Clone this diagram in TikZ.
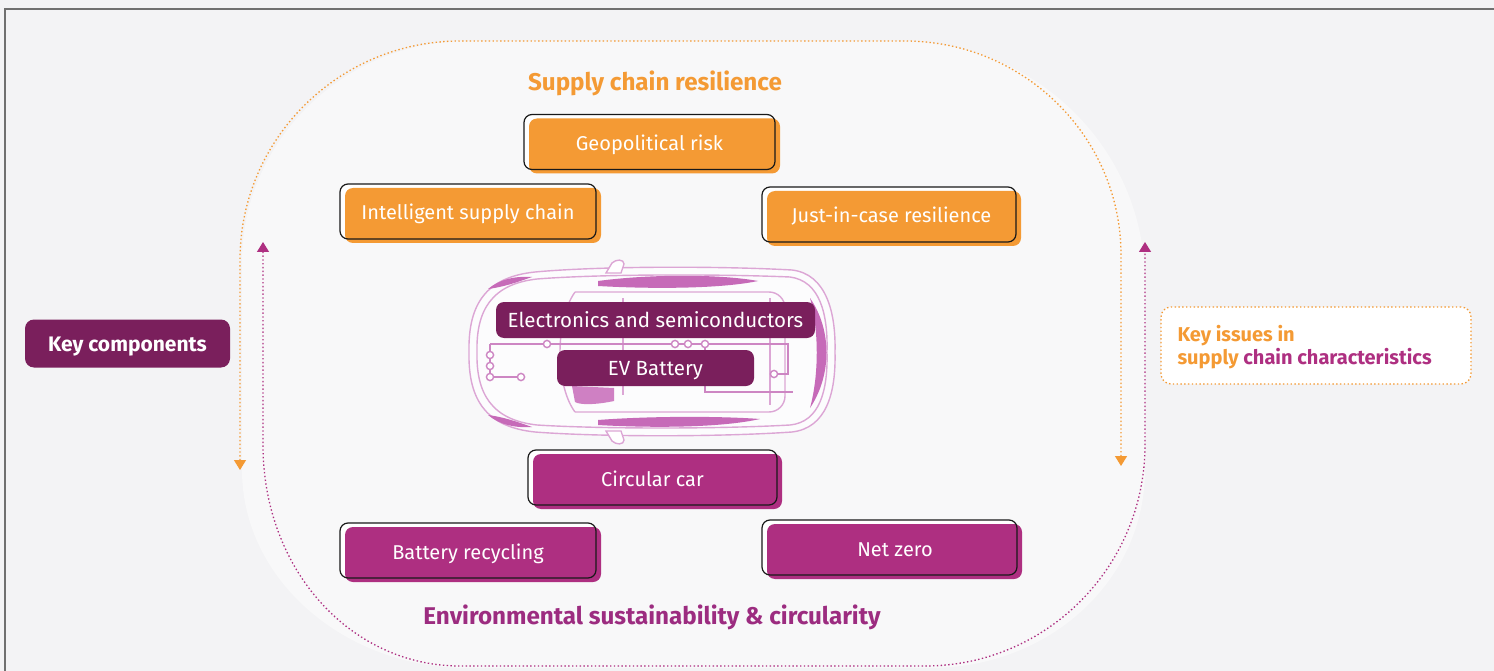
\documentclass[tikz,border=0pt]{standalone}
\usepackage{fontspec}
\setmainfont{Fira Sans}
\usetikzlibrary{arrows.meta}
\definecolor{bgc}{HTML}{F3F3F5}
\definecolor{innerc}{HTML}{F8F8F9}
\definecolor{org}{HTML}{F49A34}
\definecolor{mag}{HTML}{AE2F81}
\definecolor{dpur}{HTML}{7A1F5C}
\definecolor{envc}{HTML}{9C2C80}
\definecolor{carl}{HTML}{DCA6D5}
\definecolor{carc}{HTML}{CD86C3}
\definecolor{cark}{HTML}{C66AB8}
\definecolor{framec}{HTML}{707070}
\pgfdeclarelayer{back}\pgfdeclarelayer{mid}\pgfsetlayers{back,mid,main}
\newcommand\bxf{\fontsize{20pt}{23pt}\selectfont}
\newcommand\cbf{\fontsize{20.5pt}{23pt}\selectfont}
\newcommand\hdf{\bfseries\fontsize{24.2pt}{28pt}\selectfont}
\newcommand\kcf{\bfseries\fontsize{21pt}{24pt}\selectfont}
\newcommand\kif{\bfseries\fontsize{20pt}{23pt}\selectfont}
\tikzset{
  pairbox/.style={draw=black!90, line width=1.2pt, rounded corners=8pt,
    minimum height=55pt, inner sep=0pt, outer sep=0pt, text=white, font=\bxf,
    text height=21pt, text depth=4pt},
  carbox/.style={fill=dpur, rounded corners=8pt, minimum height=36pt, inner sep=0pt,
    text=white, font=\cbf, text height=18pt, text depth=4pt},
  odot/.style={draw=org, line width=1.3pt, dash pattern=on 1.4pt off 2.4pt},
  mdot/.style={draw=mag, line width=1.3pt, dash pattern=on 1.4pt off 2.4pt},
  tip/.tip={Triangle[width=12pt,length=10pt]},
}
\newcommand\pairbox[5]{%
  \node[pairbox, minimum width=#3] (#1) at (#2) {#5};
  \begin{pgfonlayer}{mid}
    \fill[white, rounded corners=8pt] (#1.north west) rectangle (#1.south east);
    \fill[#4, rounded corners=8pt] ([shift={(5,4)}]#1.north west) rectangle ([shift={(5,4)}]#1.south east);
  \end{pgfonlayer}}
\begin{document}
\begin{tikzpicture}[x=1pt,y=-1pt]
\useasboundingbox (0,0) rectangle (1494,671);
\begin{pgfonlayer}{back}
  \fill[bgc] (0,0) rectangle (1494,671);
  \fill[innerc] (242,470) -- (242,262) .. controls (242,140) and (345,41) .. (467,41) -- (900,41)
    .. controls (1035,41) and (1145,148) .. (1145,282) -- (1145,470)
    .. controls (1145,580) and (1050,668) .. (930,668) -- (467,668)
    .. controls (345,668) and (242,580) .. (242,470) -- cycle;
\end{pgfonlayer}
\draw[framec, line width=1.5pt] (5,671) -- (5,9) -- (1494,9);

% dotted cycle arrows
\coordinate (oL) at (240,470);
\coordinate (oR) at (1121,466);
\coordinate (mL) at (263,242);
\coordinate (mR) at (1145,242);
\draw[odot, {tip}-{tip}] (oL) -- (240,260) .. controls (240,139) and (339,41) .. (460,41) -- (905,41)
   .. controls (1024,41) and (1121,137) .. (1121,255) -- (oR);
\draw[mdot, {tip}-{tip}] (mL) -- (263,445) .. controls (263,570) and (351,666) .. (460,666) -- (925,666)
   .. controls (1046,666) and (1145,567) .. (1145,445) -- (mR);

% car drawing
\begin{scope}[line width=1.4pt]
  \filldraw[draw=carl, fill=white!60!innerc] (469,352) .. controls (468,303) and (487,277) .. (535,272)
    .. controls (600,266) and (720,266) .. (792,270) .. controls (826,274) and (836,312) .. (835,352)
    .. controls (836,394) and (826,428) .. (792,432) .. controls (720,437) and (600,437) .. (535,432)
    .. controls (487,427) and (468,401) .. (469,352) -- cycle;
  \draw[carl] (477,352) .. controls (476,310) and (492,284) .. (537,279) .. controls (600,274) and (720,274) .. (790,277)
    .. controls (820,281) and (828,314) .. (827,352) .. controls (828,390) and (820,422) .. (790,425)
    .. controls (720,429) and (600,429) .. (537,425) .. controls (492,420) and (476,394) .. (477,352);
  \draw[carl, rounded corners=16pt] (575,292) -- (785,292) -- (785,412) -- (575,412);
  \draw[carl] (575,292) .. controls (555,320) and (555,385) .. (575,412);
  \draw[carl] (623,298) -- (623,395);
  \draw[carl] (770,298) -- (770,405);
  \fill[cark] (598,281) .. controls (650,274) and (720,274) .. (758,281) .. controls (720,289) and (650,289) .. (598,286) -- cycle;
  \fill[cark] (598,420) .. controls (650,416) and (720,416) .. (760,419) .. controls (720,428) and (650,428) .. (598,425) -- cycle;
  \fill[cark] (810,298) .. controls (832,330) and (832,375) .. (810,408) .. controls (819,375) and (819,330) .. (810,298) -- cycle;
  \fill[cark] (488,289) .. controls (500,279) and (515,276) .. (532,277) .. controls (515,283) and (503,287) .. (488,289) -- cycle;
  \fill[cark] (488,415) .. controls (500,425) and (515,428) .. (532,427) .. controls (515,421) and (503,417) .. (488,415) -- cycle;
  \fill[cark!85] (572,386) -- (614,388) -- (614,401) .. controls (595,405) and (580,405) .. (575,402) -- cycle;
  \filldraw[draw=carl, fill=white] (606,273) -- (612,263) .. controls (616,259) and (624,259) .. (624,264) -- (621,273) -- cycle;
  \filldraw[draw=carl, fill=white] (606,431) -- (612,441) .. controls (616,445) and (624,445) .. (624,440) -- (621,431) -- cycle;
  % circuit
  \draw[carc] (490,344) -- (788,344) -- (788,374) -- (778,374);
  \draw[carc] (490,344) -- (490,377) -- (517,377);
  \draw[carc] (705,344) -- (705,392) -- (793,392);
  \foreach \p in {(547,344),(675,344),(688,344),(705,344),(490,355),(490,366),(490,377),(521,377),(774,374)}
    \filldraw[draw=carc, fill=white] \p circle (3.6);
\end{scope}

% headings
\node[font=\hdf, text=org] (sch) at (655,83) {Supply chain resilience};
\node[font=\hdf, text=envc] (env) at (652,617) {Environmental sustainability \& circularity};

% paired boxes
\pairbox{geo}{649.5,142}{251pt}{org}{Geopolitical risk}
\pairbox{isc}{468,211.5}{256pt}{org}{Intelligent supply chain}
\pairbox{jic}{889,214.5}{254pt}{org}{\hspace*{5pt}Just-in-case resilience}
\pairbox{cir}{652.5,477.5}{249pt}{mag}{Circular car}
\pairbox{bat}{468,550.5}{256pt}{mag}{Battery recycling}
\pairbox{nez}{889.5,547.5}{255pt}{mag}{\hspace*{11pt}Net zero}

% car boxes
\node[carbox, minimum width=319pt] (ele) at (655.5,320) {Electronics and semiconductors};
\node[carbox, minimum width=197pt] (evb) at (655.5,368) {EV Battery};

% side labels
\node[fill=dpur, rounded corners=9pt, minimum width=205pt, minimum height=48pt, inner sep=0pt,
      text=white, font=\kcf, text height=20pt, text depth=4pt] (kc) at (127.5,343.5) {Key components};
\node[draw=org, line width=1.3pt, dash pattern=on 1.4pt off 2.4pt, fill=white, rounded corners=10pt,
      minimum width=310pt, minimum height=77pt] (kib) at (1316,345.5) {};
\node[anchor=west, align=left, font=\kif, inner sep=0pt]
      (kit) at ([xshift=17pt,yshift=-2pt]kib.west) {\textcolor{org}{Key issues in}\\\textcolor{org}{supply} \textcolor{mag}{chain characteristics}};
\end{tikzpicture}
\end{document}
